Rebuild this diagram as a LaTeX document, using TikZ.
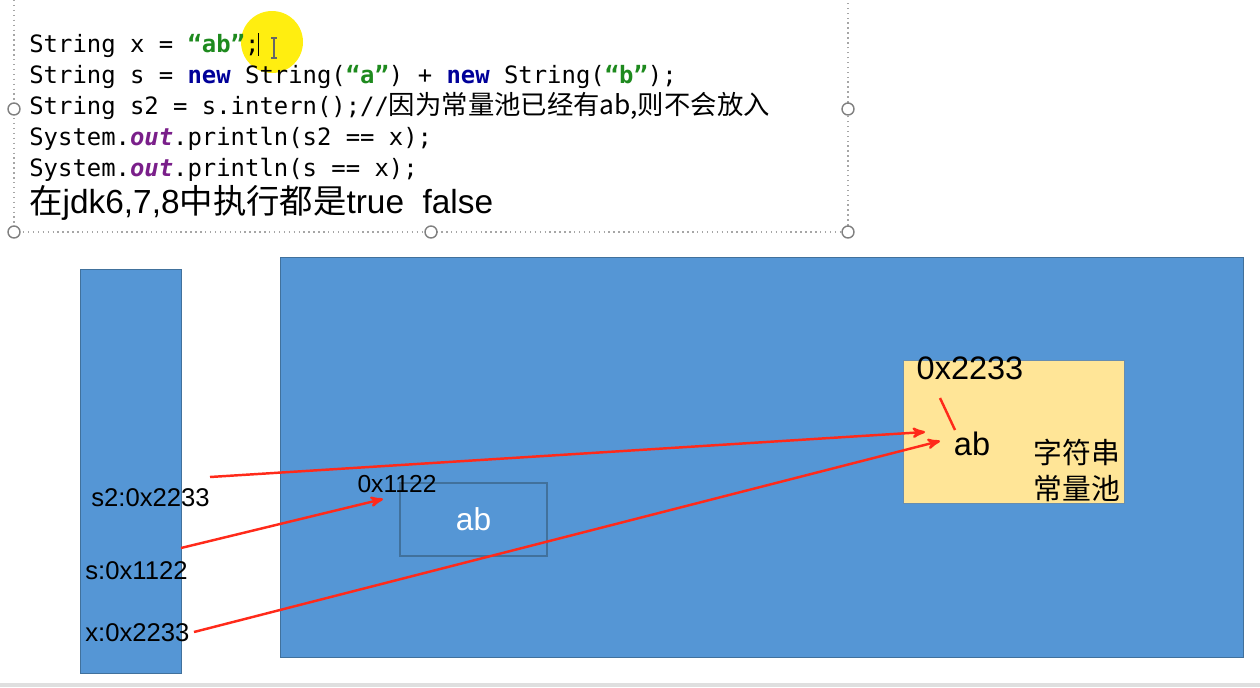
\documentclass[tikz,border=0pt]{standalone}
\usepackage{fontspec}
\setmainfont{Liberation Sans}
\setmonofont{DejaVu Sans Mono}
\newfontfamily\cjk{Noto Sans CJK SC}
\usetikzlibrary{arrows}
\definecolor{boxblue}{HTML}{5596D5}
\definecolor{edgeblue}{HTML}{41719C}
\definecolor{poolyellow}{HTML}{FFE597}
\definecolor{arrowred}{HTML}{FF2A1A}
\definecolor{kwblue}{HTML}{000099}
\definecolor{strgreen}{HTML}{1E8A1E}
\definecolor{outpurple}{HTML}{7A1F8A}
\definecolor{hilite}{HTML}{FFEE10}
\newcommand{\codefont}{\ttfamily\fontsize{13.6}{16}\selectfont}
\newcommand{\jkw}[1]{{\bfseries\color{kwblue}#1}}
\newcommand{\jstr}[1]{{\bfseries\color{strgreen}#1}}
\newcommand{\jout}[1]{{\bfseries\itshape\color{outpurple}#1}}
\begin{document}
\begin{tikzpicture}[x=0.02cm, y=-0.02cm]
\useasboundingbox (0,0) rectangle (1260,687);

% selection frame round the code
\tikzstyle{handle}=[circle, draw=gray, fill=white, line width=0.8pt, inner sep=0pt, minimum size=0.24cm]
\draw[gray!70, dotted, line width=0.8pt] (14,0) -- (14,232) -- (848,232) -- (848,0);
\node[handle] (h1) at (14,109) {};
\node[handle] (h2) at (848,109) {};
\node[handle] (h3) at (14,232) {};
\node[handle] (h4) at (431,232) {};
\node[handle] (h5) at (848,232) {};

% mouse highlight
\fill[hilite] (272,42) circle (31);
\draw[black, line width=0.5pt] (258,33) -- (258,56);
\draw[gray!80!black, line width=0.6pt] (274,38) -- (274,58) (271,38) -- (277,38) (271,58) -- (277,58);

% code
\tikzstyle{code}=[anchor=base west, inner sep=0pt, font=\codefont]
\node[code] (l1) at (29,52)  {String x = \jstr{“ab”};};
\node[code] (l2) at (29,83)  {String s = \jkw{new} String(\jstr{“a”}) + \jkw{new} String(\jstr{“b”});};
\node[code] (l3) at (29,114) {String s2 = s.intern();//{\cjk\fontsize{15}{18}\selectfont 因为常量池已经有ab,则不会放入}};
\node[code] (l4) at (29,145) {System.\jout{out}.println(s2 == x);};
\node[code] (l5) at (29,176) {System.\jout{out}.println(s == x);};
\node[anchor=base west, inner sep=0pt, font=\fontsize{19}{22}\selectfont] (res) at (29,213)
  {{\cjk 在}jdk6,7,8{\cjk 中执行都是}true\ \ false};

% stack and heap
\tikzstyle{area}=[rectangle, fill=boxblue, draw=edgeblue, line width=0.5pt, inner sep=0pt]
\node[area, minimum width=2.02cm, minimum height=8.08cm] (stack) at (130.5,471) {};
\node[area, minimum width=19.28cm, minimum height=8cm] (heap) at (762,457) {};
\node[rectangle, draw=edgeblue, line width=0.6pt, minimum width=2.94cm, minimum height=1.46cm,
      text=white, font=\fontsize{18}{20}\selectfont] (obj) at (473.5,519.5) {ab};
\node[rectangle, fill=poolyellow, draw=edgeblue!80, line width=0.5pt, minimum width=4.42cm,
      minimum height=2.86cm] (pool) at (1013.5,431.5) {};

% labels
\tikzstyle{var}=[anchor=west, inner sep=0pt, font=\fontsize{14.6}{17}\selectfont]
\node[var] (s2) at (91,498) {s2:0x2233};
\node[var] (s)  at (85,571) {s:0x1122};
\node[var] (x)  at (85,633) {x:0x2233};
\node[inner sep=0pt, font=\fontsize{14}{16}\selectfont] (addr1) at (397,484) {0x1122};
\node[inner sep=0pt, font=\fontsize{18.5}{20}\selectfont] (addr2) at (970,368) {0x2233};
\node[inner sep=0pt, font=\fontsize{18.5}{20}\selectfont] (ab2) at (972,444) {ab};
\node[inner sep=0pt, align=center, font=\cjk\fontsize{16.4}{20.5}\selectfont] (pname) at (1077,470) {字符串\\常量池};

% references
\tikzstyle{ref}=[->, >=stealth', draw=arrowred, line width=1.4pt, shorten >=0pt]
\coordinate (s2out) at (210,477);
\coordinate (sout)  at (181,548);
\coordinate (xout)  at (194,632);
\coordinate (s2in)  at (925,432);
\coordinate (sin)   at (383,499);
\coordinate (xin)   at (940,441);
\draw[ref] (s2out) -- (s2in);
\draw[ref] (sout) -- (sin);
\draw[ref] (xout) -- (xin);
\coordinate (tick1) at (940,398);
\coordinate (tick2) at (955,430);
\draw[arrowred, line width=1.4pt] (tick1) -- (tick2);

% window edge
\fill[gray!25] (0,683) rectangle (1260,687);
\end{tikzpicture}
\end{document}
